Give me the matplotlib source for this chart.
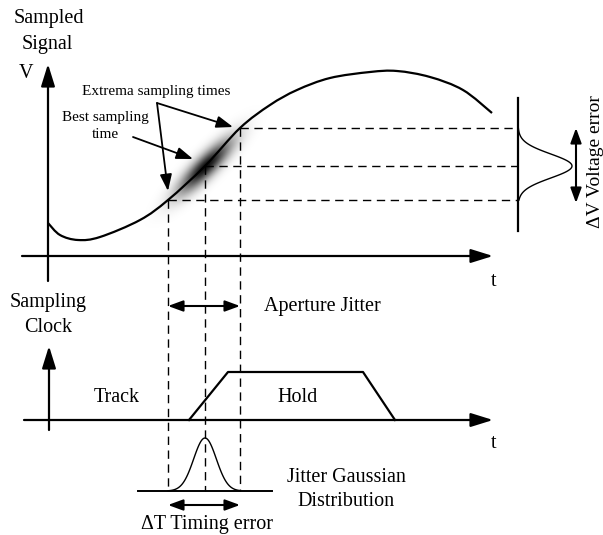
import numpy as np
import matplotlib
matplotlib.use("Agg")
import matplotlib.pyplot as plt
from matplotlib.path import Path
from matplotlib.patches import PathPatch

plt.rcParams["font.family"] = ["Liberation Serif", "DejaVu Serif"]

# Picture coordinates are pixels of the 603x535 figure, y going down.
# Sampled signal curve
signal_x = [48, 60, 78, 100, 140, 168, 205, 240, 270, 297, 330, 370, 397, 430, 463, 492]
signal_y = [223, 235, 240, 237, 220, 200, 166, 128, 105, 90, 78, 72, 71, 77, 90, 113]

# sampling instants (earliest, best, latest) and the matching voltages
sample_t = [168, 205, 240]
sample_v = [200, 166, 128]

# clock edge (trapezoid)
clock_x = [189, 228, 363, 395]
clock_y = [420, 372, 372, 420]

FS = 14.5
FS_SMALL = 11


def smooth_path(xs, ys):
    # Catmull-Rom through the points, drawn as cubic Bezier segments
    pts = np.column_stack([xs, ys]).astype(float)
    verts = [pts[0]]
    codes = [Path.MOVETO]
    for i in range(len(pts) - 1):
        p0 = pts[i - 1] if i > 0 else pts[i]
        p1, p2 = pts[i], pts[i + 1]
        p3 = pts[i + 2] if i + 2 < len(pts) else pts[i + 1]
        verts += [p1 + (p2 - p0) / 6, p2 - (p3 - p1) / 6, p2]
        codes += [Path.CURVE4] * 3
    return Path(verts, codes)


fig = plt.figure(figsize=(6.03, 5.35), dpi=100)
ax = fig.add_axes([0, 0, 1, 1])

axis_arrow = dict(arrowstyle="-|>,head_length=1.35,head_width=0.42", lw=1.6, color="black",
                  shrinkA=0, shrinkB=0)
thin_arrow = dict(arrowstyle="-|>,head_length=1.0,head_width=0.36", lw=1.3, color="black",
                  shrinkA=0, shrinkB=0)
double_arrow = dict(arrowstyle="<|-|>,head_length=0.9,head_width=0.33", lw=1.5, color="black",
                    shrinkA=0, shrinkB=0)

# blurred sampling region along the curve
gx, gy = np.meshgrid(np.arange(140, 270), np.arange(100, 230))
cx, cy = sample_t[1], sample_v[1]
ang = np.arctan2(sample_v[2] - sample_v[0], sample_t[2] - sample_t[0])
u = (gx - cx) * np.cos(ang) + (gy - cy) * np.sin(ang)
v = -(gx - cx) * np.sin(ang) + (gy - cy) * np.cos(ang)
alpha = 0.95 * np.exp(-(u / 36.0) ** 2 - (v / 10.0) ** 2)
img = np.zeros(gx.shape + (4,))
img[..., 3] = alpha
ax.imshow(img, extent=(140, 270, 230, 100), origin="upper", zorder=1,
          interpolation="bilinear")
ax.set_xlim(0, 603)
ax.set_ylim(535, 0)
ax.axis("off")

# ---- top: sampled signal ----
ax.annotate("", xy=(48, 64), xytext=(48, 281), arrowprops=axis_arrow)
ax.annotate("", xy=(493, 256), xytext=(22, 256), arrowprops=axis_arrow)
ax.text(49, 18, "Sampled", fontsize=FS, ha="center", va="center")
ax.text(47, 45, "Signal", fontsize=FS, ha="center", va="center")
ax.text(26, 73, "V", fontsize=FS, ha="center", va="center")
ax.text(494, 281, "t", fontsize=FS, ha="center", va="center")

ax.add_patch(PathPatch(smooth_path(signal_x, signal_y), fill=False, lw=1.6,
                       color="black", zorder=3))

# dashed projections
for t, vv in zip(sample_t, sample_v):
    ax.plot([t, 518], [vv, vv], ls=(0, (6, 4)), lw=1.0, color="black", zorder=2)
    ax.plot([t, t], [vv, 491], ls=(0, (6, 4)), lw=1.0, color="black", zorder=2)

# voltage distribution on the right
ax.plot([518, 518], [98, 231], lw=1.6, color="black")
vy = np.linspace(sample_v[2], sample_v[0], 100)
ax.plot(518 + 54 * np.exp(-((vy - sample_v[1]) / 17.0) ** 2), vy, lw=1.0, color="black")
ax.annotate("", xy=(576, 128), xytext=(576, 203), arrowprops=double_arrow)
ax.text(595, 162, "ΔV Voltage error", fontsize=14, rotation=90, ha="center", va="center")

# annotations
ax.text(156, 91, "Extrema sampling times", fontsize=FS_SMALL, ha="center", va="center")
ax.annotate("", xy=(233, 127), xytext=(157, 103), arrowprops=thin_arrow)
ax.annotate("", xy=(168, 191), xytext=(157, 103), arrowprops=thin_arrow)
ax.text(105, 117, "Best sampling", fontsize=FS_SMALL, ha="center", va="center")
ax.text(105, 135, "time", fontsize=FS_SMALL, ha="center", va="center")
ax.annotate("", xy=(193, 159), xytext=(133, 137), arrowprops=thin_arrow)

# ---- bottom: sampling clock ----
ax.annotate("", xy=(240, 306), xytext=(168, 306), arrowprops=double_arrow)
ax.text(264, 306, "Aperture Jitter", fontsize=FS, ha="left", va="center")
ax.text(48, 303, "Sampling", fontsize=FS, ha="center", va="center")
ax.text(48, 328, "Clock", fontsize=FS, ha="center", va="center")

ax.annotate("", xy=(49, 346), xytext=(49, 430), arrowprops=axis_arrow)
ax.annotate("", xy=(493, 420), xytext=(24, 420), arrowprops=axis_arrow)
ax.text(494, 443, "t", fontsize=FS, ha="center", va="center")
ax.plot(clock_x, clock_y, lw=1.6, color="black")
ax.text(117, 397, "Track", fontsize=FS, ha="center", va="center")
ax.text(298, 397, "Hold", fontsize=FS, ha="center", va="center")

# timing jitter distribution
ax.plot([138, 272], [491, 491], lw=1.4, color="black")
tx = np.linspace(sample_t[0], sample_t[2], 100)
ax.plot(tx, 491 - 53 * np.exp(-((tx - sample_t[1]) / 16.0) ** 2), lw=1.0, color="black")
ax.text(346, 478, "Jitter Gaussian", fontsize=FS, ha="center", va="center")
ax.text(346, 502, "Distribution", fontsize=FS, ha="center", va="center")
ax.annotate("", xy=(240, 505), xytext=(168, 505), arrowprops=double_arrow)
ax.text(207, 525, "ΔT Timing error", fontsize=FS, ha="center", va="center")

fig.savefig("out.png", dpi=100)
